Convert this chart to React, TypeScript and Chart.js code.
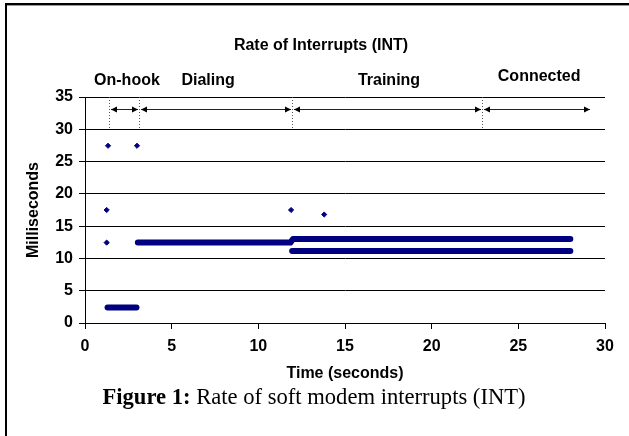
import React, { useEffect, useRef } from "react";
import { Chart, registerables } from "chart.js";

Chart.register(...registerables);

// ---- Data ----
// isolated interrupt samples (seconds, milliseconds)
const isolatedX = [1.33, 3.0, 1.25, 1.25, 11.89, 13.8];
const isolatedY = [27.45, 27.45, 17.5, 12.45, 17.5, 16.8];

// dense bands of samples (drawn as continuous runs)
const onHookBandX = [1.3, 2.97];
const onHookBandY = [2.4, 2.4];
const dialingBandX = [3.05, 11.85, 12.0, 28.0];
const dialingBandY = [12.45, 12.45, 13.0, 13.0];
const trainingLowBandX = [11.95, 28.0];
const trainingLowBandY = [11.15, 11.15];

// phases of the modem session
const phaseNames = ["On-hook", "Dialing", "Training", "Connected"];
const phaseStarts = [1.38, 3.1, 11.94, 22.9];
const phaseEnds = [3.1, 11.94, 22.9, 29.2];
const phaseLabelX = [2.42, 7.1, 17.54, 26.2];
const arrowLevel = 33.1;

const xTicks = [0, 5, 10, 15, 20, 25, 30];
const yTicks = [0, 5, 10, 15, 20, 25, 30, 35];

const NAVY = "#000080";
const SANS = '"Liberation Sans", Arial, sans-serif';
const SERIF = '"Liberation Serif", "Times New Roman", serif';

const toPts = (xs: number[], ys: number[]) => xs.map((x, i) => ({ x, y: ys[i] }));

const annotationPlugin = {
  id: "annotations",
  afterDraw(chart: any) {
    const { ctx, scales } = chart;
    const xs = scales.x;
    const ys = scales.y;
    ctx.save();

    // frame (top and left edges)
    ctx.fillStyle = "#000";
    ctx.fillRect(5, 3, 2, 433);
    ctx.fillRect(5, 3, 624, 2);
    ctx.fillStyle = "#9a9a9a";
    ctx.fillRect(7, 5, 622, 1);

    // title
    ctx.fillStyle = "#000";
    ctx.font = `bold 16px ${SANS}`;
    ctx.textAlign = "center";
    ctx.textBaseline = "middle";
    ctx.fillText("Rate of Interrupts (INT)", 321, 46);

    // phase labels
    phaseNames.forEach((name, i) => {
      const px = xs.getPixelForValue(phaseLabelX[i]);
      const py = name === "Connected" ? 77 : 81;
      ctx.fillText(name, px, py);
    });

    // dotted boundary lines
    const yTop = ys.getPixelForValue(35);
    const yBot = ys.getPixelForValue(30);
    ctx.strokeStyle = "#555";
    ctx.lineWidth = 1;
    ctx.setLineDash([1, 2]);
    phaseStarts.forEach((s) => {
      const px = Math.round(xs.getPixelForValue(s)) + 0.5;
      ctx.beginPath();
      ctx.moveTo(px, yTop);
      ctx.lineTo(px, yBot);
      ctx.stroke();
    });
    ctx.setLineDash([]);

    // arrows
    const ay = Math.round(ys.getPixelForValue(arrowLevel)) + 0.5;
    const head = (tipX: number, dir: number) => {
      ctx.beginPath();
      ctx.moveTo(tipX, ay);
      ctx.lineTo(tipX - dir * 6, ay - 3);
      ctx.lineTo(tipX - dir * 6, ay + 3);
      ctx.closePath();
      ctx.fill();
    };
    ctx.strokeStyle = "#222";
    ctx.fillStyle = "#000";
    phaseStarts.forEach((s, i) => {
      const x1 = Math.round(xs.getPixelForValue(s)) + 2;
      const x2 = Math.round(xs.getPixelForValue(phaseEnds[i])) - 1;
      ctx.beginPath();
      ctx.moveTo(x1, ay);
      ctx.lineTo(x2, ay);
      ctx.stroke();
      head(x1, -1);
      head(x2, 1);
    });

    // caption
    const bold = "Figure 1:";
    const rest = " Rate of soft modem interrupts (INT)";
    const size = 22.6;
    ctx.textAlign = "left";
    ctx.textBaseline = "alphabetic";
    ctx.font = `bold ${size}px ${SERIF}`;
    const w1 = ctx.measureText(bold).width;
    ctx.font = `${size}px ${SERIF}`;
    const w2 = ctx.measureText(rest).width;
    const startX = 314 - (w1 + w2) / 2;
    ctx.font = `bold ${size}px ${SERIF}`;
    ctx.fillText(bold, startX, 404);
    ctx.font = `${size}px ${SERIF}`;
    ctx.fillText(rest, startX + w1, 404);

    ctx.restore();
  },
};

export default function App() {
  const ref = useRef<HTMLCanvasElement | null>(null);

  useEffect(() => {
    if (!ref.current) return;
    const tickFont = { family: SANS, size: 16, weight: "bold" as const };
    const bandStyle = {
      type: "line" as const,
      showLine: true,
      borderColor: NAVY,
      backgroundColor: NAVY,
      borderWidth: 6,
      borderCapStyle: "round" as const,
      borderJoinStyle: "round" as const,
      pointRadius: 0,
      fill: false,
      tension: 0,
    };
    const chart = new Chart(ref.current, {
      type: "scatter",
      data: {
        datasets: [
          { ...bandStyle, label: "on-hook", data: toPts(onHookBandX, onHookBandY) },
          { ...bandStyle, label: "dialing", data: toPts(dialingBandX, dialingBandY) },
          { ...bandStyle, label: "training", data: toPts(trainingLowBandX, trainingLowBandY) },
          {
            label: "isolated",
            data: toPts(isolatedX, isolatedY),
            pointStyle: "rectRot",
            pointRadius: 2.6,
            pointBorderWidth: 1,
            backgroundColor: NAVY,
            borderColor: NAVY,
            showLine: false,
          } as any,
        ],
      },
      options: {
        animation: false,
        responsive: false,
        maintainAspectRatio: false,
        layout: { padding: { top: 97, right: 24, left: 0, bottom: 0 } },
        plugins: {
          legend: { display: false },
          tooltip: { enabled: false },
          title: { display: false },
        },
        scales: {
          x: {
            type: "linear",
            min: 0,
            max: 30,
            afterBuildTicks: (s: any) => {
              s.ticks = xTicks.map((v) => ({ value: v }));
            },
            afterFit: (s: any) => {
              s.height = 113;
            },
            ticks: { font: tickFont, color: "#000", padding: 8, maxRotation: 0 },
            grid: { drawOnChartArea: false, drawTicks: true, tickLength: 6, color: "#000", lineWidth: 1 },
            border: { display: true, color: "#000", width: 1 },
            title: {
              display: true,
              text: "Time (seconds)",
              color: "#000",
              font: tickFont,
              padding: { top: 0, bottom: 53 },
            },
          },
          y: {
            type: "linear",
            min: 0,
            max: 35,
            afterBuildTicks: (s: any) => {
              s.ticks = yTicks.map((v) => ({ value: v }));
            },
            afterFit: (s: any) => {
              s.width = 85;
            },
            ticks: { font: tickFont, color: "#000", padding: 6 },
            grid: { drawOnChartArea: true, drawTicks: true, tickLength: 6, color: "#000", lineWidth: 1 },
            border: { display: true, color: "#000", width: 1 },
            title: {
              display: true,
              text: "Milliseconds",
              color: "#000",
              font: tickFont,
              padding: { top: 24, bottom: 0 },
            },
          },
        },
      } as any,
      plugins: [annotationPlugin],
    });
    return () => chart.destroy();
  }, []);

  return (
    <div style={{ position: "fixed", left: 0, top: 0, width: 629, height: 436, background: "#fff" }}>
      <canvas ref={ref} width={629} height={436} style={{ display: "block" }} />
    </div>
  );
}
